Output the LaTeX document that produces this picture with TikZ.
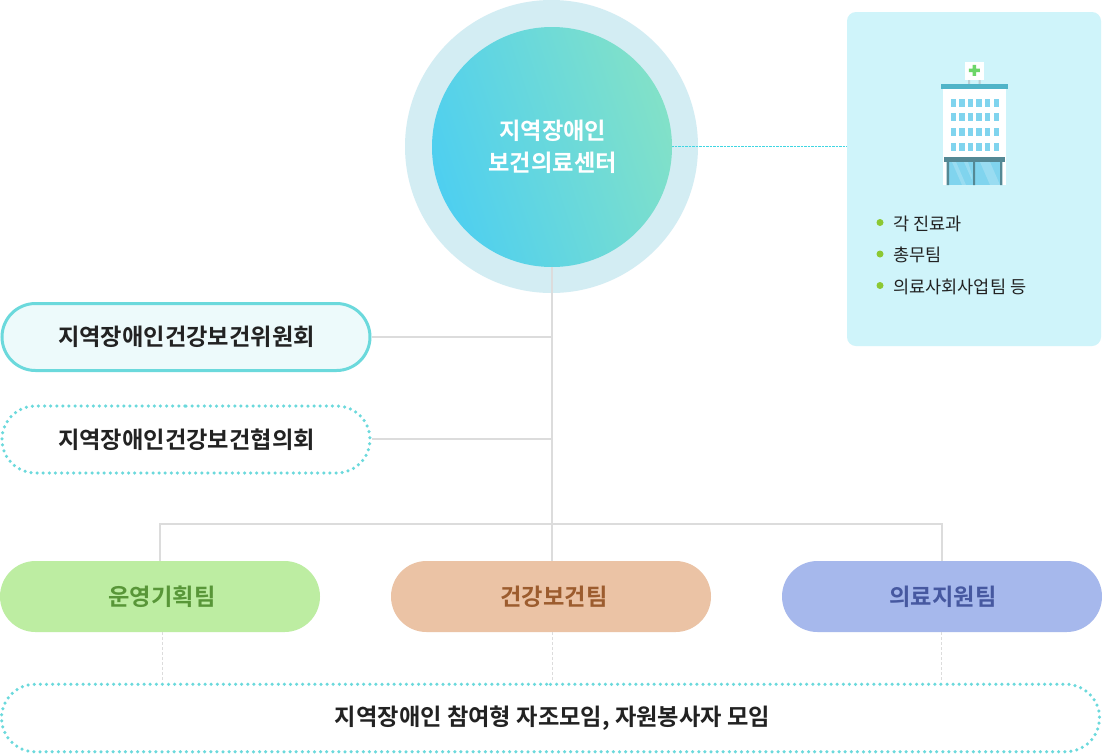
\documentclass[tikz,border=0pt]{standalone}
\usepackage{fontspec}
\setmainfont{Noto Sans CJK KR}
\newfontfamily\krb{Noto Sans CJK KR}[BoldFont={Noto Sans CJK KR Bold}]
\usetikzlibrary{shapes.misc}
\definecolor{conn}{HTML}{DCDCDC}
\definecolor{tealb}{HTML}{6BD9DC}
\definecolor{panelc}{HTML}{CFF4FA}
\definecolor{ringc}{HTML}{D3EDF3}
\definecolor{ink}{HTML}{222222}
\definecolor{win}{HTML}{80D4EE}
\definecolor{steel}{HTML}{548894}
\definecolor{roofc}{HTML}{50B4C8}
\definecolor{gradA}{RGB}{78,207,240}
\definecolor{gradB}{RGB}{130,225,200}
\definecolor{t1f}{RGB}{189,237,162}
\definecolor{t1t}{RGB}{88,150,56}
\definecolor{t2f}{RGB}{235,195,165}
\definecolor{t2t}{RGB}{156,92,46}
\definecolor{t3f}{RGB}{166,184,236}
\definecolor{t3t}{RGB}{70,88,160}
\definecolor{crossc}{RGB}{108,214,104}
\definecolor{bulc}{RGB}{140,200,50}
\definecolor{dashb}{HTML}{3FD6E2}
\tikzset{
 x=1pt,y=-1pt,
 conline/.style={draw=conn,line width=2pt},
 dashconn/.style={draw=conn,line width=1pt,dash pattern=on 3pt off 2pt},
 pillbase/.style={rounded rectangle,inner sep=0pt,text=ink,font=\krb\bfseries\fontsize{23.25}{26}\selectfont},
 solidpill/.style={pillbase,draw=tealb,line width=3pt,fill=tealb!12,minimum width=368pt,minimum height=67pt},
 dotpill/.style={pillbase,draw=tealb,fill=white,line width=3.5pt,line cap=round,dash pattern=on 0pt off 6.1pt},
 team/.style={pillbase,minimum width=320pt,minimum height=71pt},
 li/.style={font=\fontsize{17.55}{20}\selectfont,text=ink,inner sep=0pt,anchor=west},
 bul/.style={circle,fill=bulc,inner sep=0pt,minimum size=7pt},
}
\begin{document}
\begin{tikzpicture}
\useasboundingbox (0,0) rectangle (1102,753);
\fill[white] (0,0) rectangle (1102,753);
\coordinate (j1) at (552,337);
\coordinate (j2) at (552,439);
\coordinate (j3) at (552,524);
\coordinate (dashstart) at (671,146.5);
% panel
\node[fill=panelc,rounded corners=9pt,minimum width=254pt,minimum height=334pt,inner sep=0pt] (panel) at (974,179) {};
% circles
\node[circle,fill=ringc,minimum size=293pt,inner sep=0pt] (ring) at (551.5,146.5) {};
\draw[draw=dashb,line width=1pt,dash pattern=on 2.5pt off 1pt] (dashstart) -- (panel.west |- dashstart);
\node[circle,minimum size=240pt,inner sep=0pt,left color=gradA,right color=gradB,shading angle=108,
  align=center,text=white,font=\krb\bfseries\fontsize{23.25}{31.6}\selectfont] (core) at (552,147) {\hspace*{1.5pt}지역장애인\\\hspace*{1.5pt}보건의료센터};
% pills
\node[solidpill] (p1) at (186,337) {\hspace*{1pt}지역장애인건강보건위원회};
\node[dotpill,minimum width=368pt,minimum height=67pt] (p2) at (186,439.5) {};
\node[pillbase] (p2t) at (p2) {\hspace*{1pt}지역장애인건강보건협의회};
\node[team,fill=t1f,text=t1t] (t1) at (160,596.5) {\hspace*{4pt}운영기획팀};
\node[team,fill=t2f,text=t2t] (t2) at (551,596.5) {\hspace*{6pt}건강보건팀};
\node[team,fill=t3f,text=t3t] (t3) at (942,596.5) {\hspace*{2pt}의료지원팀};
\node[dotpill,minimum width=1098pt,minimum height=67.5pt] (bot) at (550.5,718) {};
\node[pillbase] (bott) at (bot) {\hspace*{4pt}지역장애인 참여형 자조모임, 자원봉사자 모임};
% connectors
\draw[conline] (core.south) -- (j3);
\draw[conline] (p1.east) -- (j1);
\draw[conline] (p2.east |- j2) -- (j2);
\draw[conline] (t1.north) |- (j3) -| (t3.north);
\draw[conline] (j3) -- (j3 |- t2.north);
\draw[dashconn] (162.5,632) -- (162.5,682);
\draw[dashconn] (552,632) -- (552,682);
\draw[dashconn] (941,632) -- (941,682);
% building
\fill[white] (965.3,62) rectangle (983.7,80);
\fill[crossc] (968.8,68.5) rectangle (979.8,72.1)
  (972.5,64.8) rectangle (976.1,75.8);
\fill[steel!40] (968,80) rectangle (970,84) (978.5,80) rectangle (980.5,84);
\fill[white] (943,88) rectangle (1005.7,185);
\fill[roofc] (941,84) rectangle (1008,88.7);
\foreach \wx in {953.3,962,970.7,979,987.7,996.3}
  \foreach \wy in {102.7,117.3,132,146.7}
    \fill[win] (\wx-2.6,\wy-4) rectangle (\wx+2.6,\wy+4);
\fill[win] (947,162) rectangle (1002,185);
\fill[white,opacity=.2] (952,162) -- (956,162) -- (966,185) -- (962,185) -- cycle
  (964,162) -- (968,162) -- (972,175) -- (972,180) -- cycle
  (980,162) -- (990,162) -- (1000,185) -- (990,185) -- cycle;
\fill[steel] (946.7,162) rectangle (949,185) (973,162) rectangle (975.2,185) (1000,162) rectangle (1002.3,185);
\fill[steel] (943.8,157.3) rectangle (1005.3,162.3);
% list
\node[bul] (b1) at (880,222.5) {};
\node[bul] (b2) at (880,254) {};
\node[bul] (b3) at (880,285.5) {};
\node[li] (l1) at (893,223.5) {각 진료과};
\node[li] (l2) at (893,255) {총무팀};
\node[li] (l3) at (893,286.5) {의료사회사업팀 등};
\end{tikzpicture}
\end{document}
